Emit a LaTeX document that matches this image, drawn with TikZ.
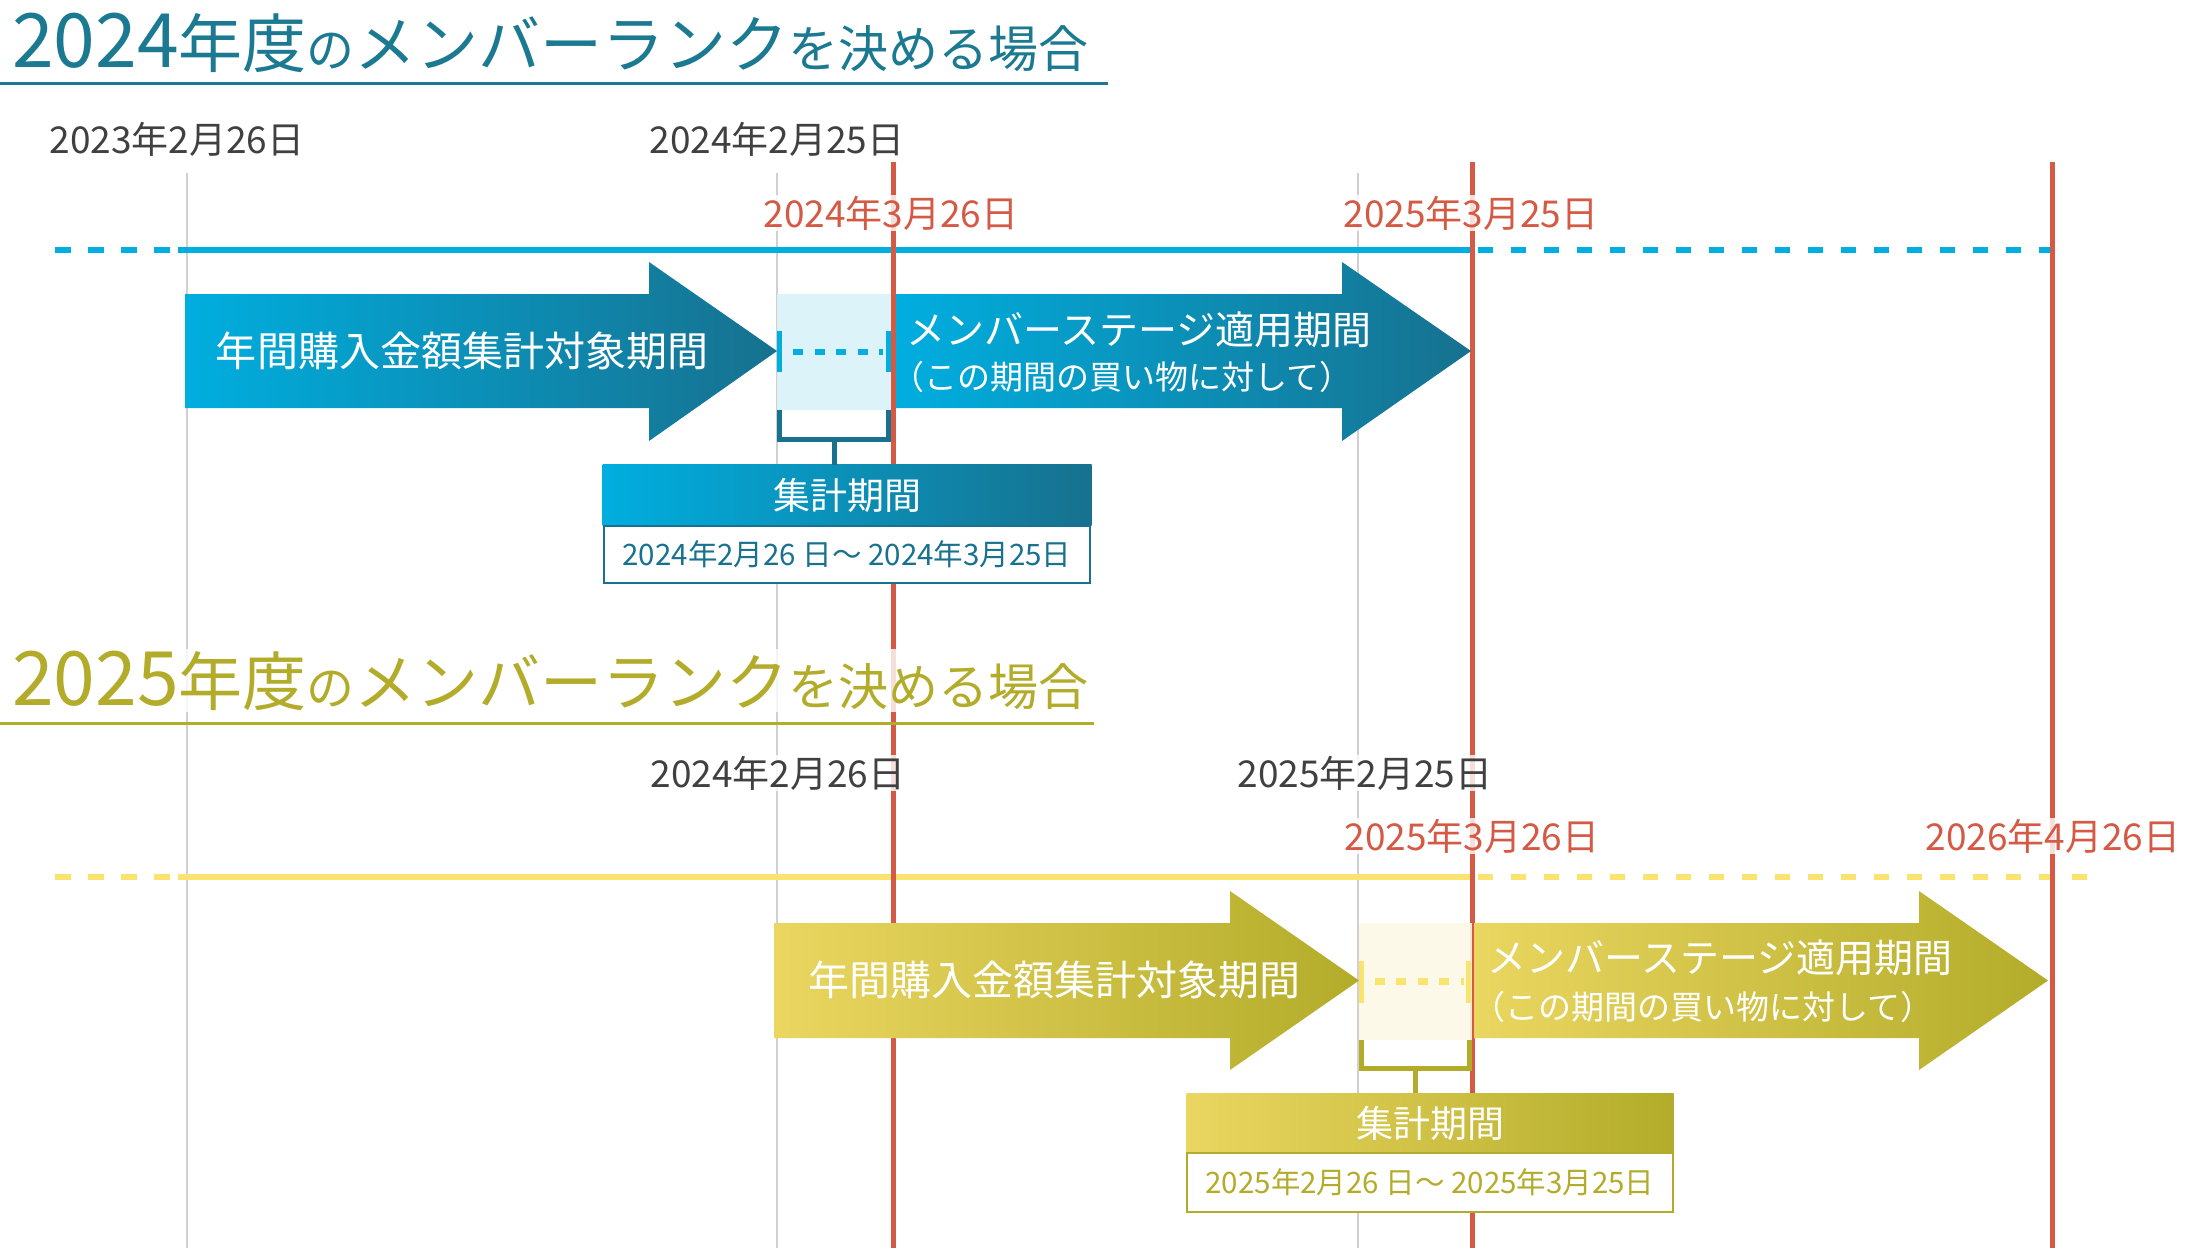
\documentclass[tikz,border=0pt]{standalone}
\usepackage{fontspec}
\setmainfont{Noto Sans CJK JP}
\usetikzlibrary{positioning}
\definecolor{cyanc}{HTML}{00AEDF}
\definecolor{tealc}{HTML}{17718F}
\definecolor{ttlblue}{HTML}{1B7A91}
\definecolor{lightb}{HTML}{D9F2FA}
\definecolor{yelc}{HTML}{FBE36F}
\definecolor{yelleft}{HTML}{EAD660}
\definecolor{olivec}{HTML}{B3AC2A}
\definecolor{lighty}{HTML}{FDF9E6}
\definecolor{redc}{HTML}{D45A45}
\definecolor{grayc}{HTML}{D0D0D0}
\definecolor{dgray}{HTML}{404040}
\newcommand\fsz[1]{\fontsize{#1bp}{#1bp}\selectfont}
\tikzstyle{gline}=[draw=grayc, line width=2bp]
\tikzstyle{rline}=[draw=redc, line width=5bp]
\tikzstyle{tlB}=[draw=cyanc, line width=6bp]
\tikzstyle{tlY}=[draw=yelc, line width=6bp]
\tikzstyle{arrB}=[left color=cyanc, right color=tealc]
\tikzstyle{arrY}=[left color=yelleft, right color=olivec]
\tikzstyle{atext}=[text=white, font=\fsz{41}, inner sep=0]
\tikzstyle{lbB}=[fill=lightb, fill opacity=0.9, minimum width=114bp, minimum height=116bp, inner sep=0, outer sep=0]
\tikzstyle{lbY}=[fill=lighty, fill opacity=0.9, minimum width=113bp, minimum height=117bp, inner sep=0, outer sep=0]
\tikzstyle{dotB}=[draw=cyanc, line width=6.5bp, dash pattern=on 10bp off 11.5bp]
\tikzstyle{dotY}=[draw=yelc, line width=6.5bp, dash pattern=on 10bp off 11.5bp]
\tikzstyle{tickB}=[draw=cyanc, line width=5bp]
\tikzstyle{tickY}=[draw=yelc, line width=5bp]
\tikzstyle{brkB}=[draw=tealc, line width=5bp]
\tikzstyle{brkY}=[draw=olivec, line width=5bp]
\tikzstyle{sumB}=[minimum width=489bp, minimum height=61bp, left color=cyanc, right color=tealc, text=white, font=\fsz{37}, inner sep=0, outer sep=0]
\tikzstyle{sumY}=[minimum width=487bp, minimum height=60bp, left color=yelleft, right color=olivec, text=white, font=\fsz{37}, inner sep=0, outer sep=0]
\tikzstyle{dateB}=[minimum width=486bp, minimum height=57bp, draw=tealc, line width=2bp, fill=white, text=tealc, font=\fsz{29.5}, inner sep=0, outer sep=0]
\tikzstyle{dateY}=[minimum width=486bp, minimum height=59bp, draw=olivec, line width=2bp, fill=white, text=olivec, font=\fsz{29.5}, inner sep=0, outer sep=0]
\tikzstyle{halo}=[fill=white, fill opacity=0.8, text opacity=1, inner sep=1bp]
\tikzstyle{ddate}=[halo, anchor=base, text=dgray, font=\fsz{37}]
\tikzstyle{rdate}=[halo, anchor=base, text=redc, font=\fsz{37}]
\tikzstyle{ttl}=[halo, anchor=base west, inner sep=2bp]

\begin{document}
\begin{tikzpicture}[x=1bp,y=-1bp]
\useasboundingbox[fill=white](0,0)rectangle(2199,1248);
\draw[gline](187,173)--(187,1248);
\draw[gline](777,173)--(777,1248);
\draw[gline](1358,173)--(1358,1248);
\draw[tlB, dash pattern=on 16bp off 17bp](55,250)--(172,250);
\draw[tlB](178,250)--(1472,250);
\draw[tlB, dash pattern=on 15bp off 18bp](1478,250)--(2050,250);
\draw[tlY, dash pattern=on 16bp off 17bp](55,877)--(172,877);
\draw[tlY](178,877)--(1472,877);
\draw[tlY, dash pattern=on 15bp off 18bp](1478,877)--(2096,877);
\draw[rline](893,162)--(893,1248);
\draw[rline](1472,162)--(1472,1248);
\draw[rline](2052,162)--(2052,1248);
\node[sumB](sumA)at(847,495){集計期間};
\node[dateB, below=0pt of sumA](dateA){2024年2月26 日～ 2024年3月25日};
\node[sumY](sumC)at(1430,1123){集計期間};
\node[dateY, below=0pt of sumC](dateC){2025年2月26 日～ 2025年3月25日};
\path[arrB](185,294)--(649,294)--(649,262)--(777,351)--(649,441)--(649,408)--(185,408)--cycle;
\path[arrB](896,294)--(1342,294)--(1342,262)--(1471,351)--(1342,441)--(1342,408)--(896,408)--cycle;
\path[arrY](774,923)--(1230,923)--(1230,891)--(1359,980.5)--(1230,1070)--(1230,1038)--(774,1038)--cycle;
\path[arrY](1474,923)--(1919,923)--(1919,891)--(2048,980.5)--(1919,1070)--(1919,1038)--(1474,1038)--cycle;
\node[atext](tA)at(462,351){年間購入金額集計対象期間};
\node[atext, anchor=west, font=\fsz{39}](tB)at(906,330){メンバーステージ適用期間};
\node[atext, anchor=west, font=\fsz{33}](tBs)at(891,377){（この期間の買い物に対して）};
\node[atext](tC)at(1054,980){年間購入金額集計対象期間};
\node[atext, anchor=west, font=\fsz{39}](tD)at(1487,958){メンバーステージ適用期間};
\node[atext, anchor=west, font=\fsz{33}](tDs)at(1472,1007){（この期間の買い物に対して）};
\node[lbB](lbA)at(834,352){};
\draw[dotB]([xshift=16bp]lbA.west)--([xshift=-8bp]lbA.east);
\draw[tickB]([xshift=2.5bp]lbA.west)++(0,-21)--++(0,41);
\draw[tickB]([xshift=-3bp]lbA.east)++(0,-21)--++(0,41);
\draw[brkB]([xshift=2.5bp]lbA.south west)--++(0,29)-|([xshift=-2.5bp]lbA.south east);
\draw[brkB]([yshift=-29bp]lbA.south)--(lbA.south|-sumA.north);
\node[lbY](lbC)at(1415,981.5){};
\draw[dotY]([xshift=16bp]lbC.west)--([xshift=-8bp]lbC.east);
\draw[tickY]([xshift=2.5bp]lbC.west)++(0,-21)--++(0,42);
\draw[tickY]([xshift=-3bp]lbC.east)++(0,-21)--++(0,42);
\draw[brkY]([xshift=2.5bp]lbC.south west)--++(0,28)-|([xshift=-2.5bp]lbC.south east);
\draw[brkY]([yshift=-28bp]lbC.south)--(lbC.south|-sumC.north);
\node[ddate](d1)at(177,153){2023年2月26日};
\node[ddate](d2)at(777,153){2024年2月25日};
\node[rdate](r1)at(891,227){2024年3月26日};
\node[rdate](r2)at(1471,227){2025年3月25日};
\node[ddate](d3)at(778,787){2024年2月26日};
\node[ddate](d4)at(1365,787){2025年2月25日};
\node[rdate](r3)at(1472,850){2025年3月26日};
\node[rdate](r4)at(2053,850){2026年4月26日};
\node[ttl, text=ttlblue](ttlA)at(10,67){\fsz{75}2024\fsz{64}年度\fsz{48}の\fsz{62}メンバーランク\fsz{50}を決める場合};
\draw[draw=ttlblue, line width=3bp](0,83)--(1108,83);
\node[ttl, text=olivec](ttlC)at(10,705){\fsz{75}2025\fsz{64}年度\fsz{48}の\fsz{62}メンバーランク\fsz{50}を決める場合};
\draw[draw=olivec, line width=3bp](0,723)--(1094,723);
\end{tikzpicture}
\end{document}
